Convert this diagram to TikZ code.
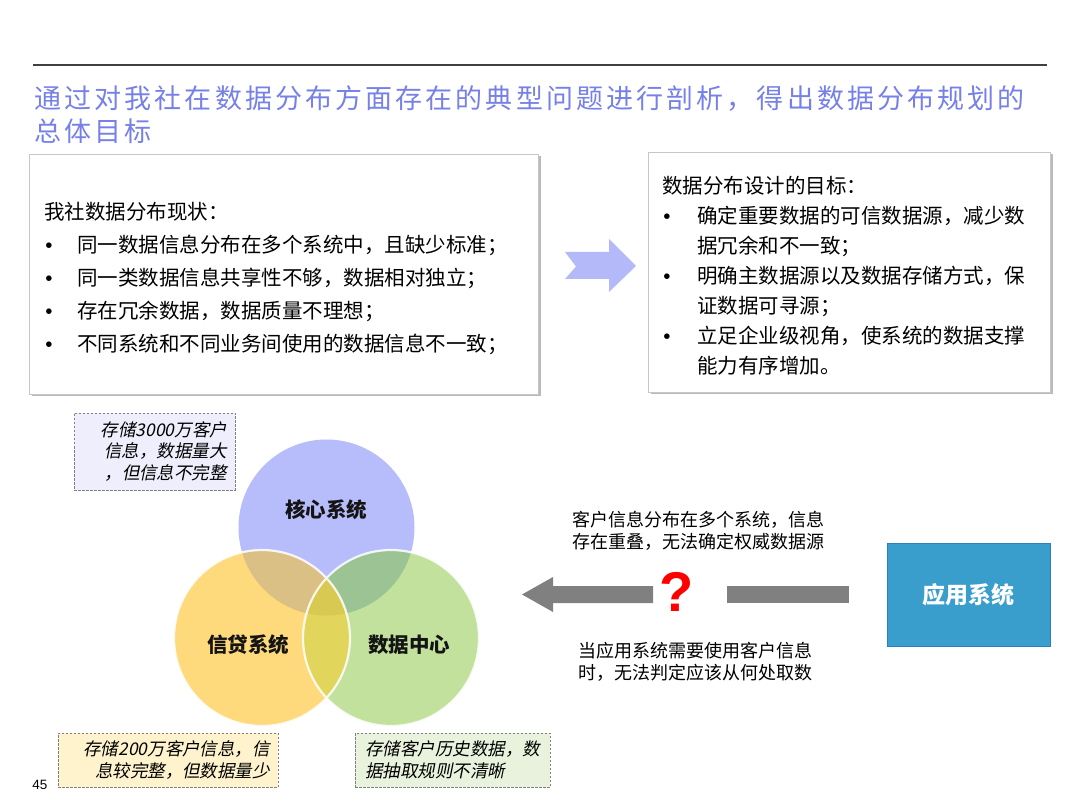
\documentclass[tikz,border=0pt]{standalone}
\usepackage{fontspec}
\setmainfont{Noto Sans CJK SC}
\newfontfamily\titlefont[LetterSpace=11.5]{Noto Sans CJK SC}
\newfontfamily\slantfont[FakeSlant=0.2]{Noto Sans CJK SC}
\newfontfamily\arialfont{Liberation Sans}
\newcommand\bul[1]{\makebox[#1][l]{\hspace{1pt}\arialfont •}}
\usetikzlibrary{shadows}
\definecolor{titleblue}{RGB}{118,128,232}
\definecolor{arrowlav}{RGB}{180,185,250}
\definecolor{cblue}{RGB}{182,189,250}
\definecolor{cyellow}{RGB}{254,218,125}
\definecolor{cgreen}{RGB}{193,225,157}
\definecolor{cby}{RGB}{218,192,132}
\definecolor{cbg}{RGB}{155,195,147}
\definecolor{cyg}{RGB}{225,213,92}
\definecolor{cbyg}{RGB}{216,201,82}
\definecolor{notelav}{RGB}{238,238,252}
\definecolor{noteyel}{RGB}{254,243,205}
\definecolor{notegrn}{RGB}{232,242,220}
\definecolor{appblue}{RGB}{58,158,204}
\definecolor{appedge}{RGB}{44,128,192}
\begin{document}
\begin{tikzpicture}[x=1pt,y=-1pt,line width=.8pt,
  panel/.style={draw=black!22,fill=white,drop shadow={shadow xshift=2.5pt,shadow yshift=-2.5pt,fill=black!45,opacity=.6}},
  note/.style={draw=black!50,dash pattern=on 2.5pt off 1.5pt,line width=.7pt,inner xsep=8pt,font=\slantfont\fontsize{17.5}{21.5}\selectfont},
  venn/.style={inner sep=0pt,text=black!92,font=\bfseries\fontsize{20.5}{24}\selectfont},
  plain/.style={anchor=west,align=left,inner sep=0pt}]
  \useasboundingbox (0,0) rectangle (1080,810);
  \draw[line width=1.5pt,black!75] (33,65)--(1047,65);
  \node[plain,text=titleblue,font=\titlefont\fontsize{27}{33}\selectfont] (title) at (34,114.5)
    {通过对我社在数据分布方面存在的典型问题进行剖析，得出数据分布规划的\\总体目标};
  \node[panel,minimum width=509pt,minimum height=240pt] (nowbox) at (283.5,274) {};
  \node[plain,font=\fontsize{20.5}{33}\selectfont] (nowtext) at (44,278.5)
    {我社数据分布现状：\\
     \bul{33pt}同一数据信息分布在多个系统中，且缺少标准；\\
     \bul{33pt}同一类数据信息共享性不够，数据相对独立；\\
     \bul{33pt}存在冗余数据，数据质量不理想；\\
     \bul{33pt}不同系统和不同业务间使用的数据信息不一致；};
  \fill[arrowlav] (565,252)--(609,252)--(609,239)--(636,266)--(609,292)--(609,279)--(565,279)--(576,266.5)--cycle;
  \node[panel,minimum width=402pt,minimum height=240pt] (goalbox) at (849,272) {};
  \node[plain,font=\fontsize{20.5}{30}\selectfont] (goaltext) at (662,276)
    {数据分布设计的目标：\\
     \bul{35pt}确定重要数据的可信数据源，减少数\\
     \hspace*{35pt}据冗余和不一致；\\
     \bul{35pt}明确主数据源以及数据存储方式，保\\
     \hspace*{35pt}证数据可寻源；\\
     \bul{35pt}立足企业级视角，使系统的数据支撑\\
     \hspace*{35pt}能力有序增加。};
  \coordinate (core) at (326.5,527.5);
  \coordinate (loan) at (262,638);
  \coordinate (dc) at (391,638);
  \fill[cblue] (core) circle (88pt);
  \fill[cyellow] (loan) circle (88pt);
  \fill[cgreen] (dc) circle (88pt);
  \begin{scope}
    \clip (core) circle (88pt);
    \fill[cby] (loan) circle (88pt);
    \fill[cbg] (dc) circle (88pt);
  \end{scope}
  \begin{scope}
    \clip (loan) circle (88pt);
    \fill[cyg] (dc) circle (88pt);
    \clip (core) circle (88pt);
    \fill[cbyg] (dc) circle (88pt);
  \end{scope}
  \draw[white,line width=2.2pt,draw opacity=.85] (loan) circle (88pt) (dc) circle (88pt);
  \node[venn] (corelabel) at (326,510) {核心系统};
  \node[venn] (loanlabel) at (248,645) {信贷系统};
  \node[venn] (dclabel) at (409,645) {数据中心};
  \node[note,fill=notelav,text width=145pt,align=right,minimum height=77pt] (corenote) at (154.5,451.5)
    {存储3000万客户\\信息，数据量大\\，但信息不完整};
  \node[note,fill=noteyel,text width=204pt,align=right,minimum height=54pt] (loannote) at (168,760)
    {存储200万客户信息，信\\息较完整，但数据量少};
  \node[note,fill=notegrn,inner xsep=10pt,text width=175pt,align=left,minimum height=54pt] (dcnote) at (452.5,760)
    {存储客户历史数据，数\\据抽取规则不清晰};
  \fill[black!50] (522,594.5)--(553,577)--(553,586)--(653,586)--(653,603)--(553,603)--(553,612)--cycle;
  \fill[black!50] (727,586) rectangle (849,603);
  \node[inner sep=0pt,text=red,font=\arialfont\bfseries\fontsize{56}{56}\selectfont] (q) at (677,592) {?};
  \node[plain,font=\fontsize{18}{22}\selectfont] (toptext) at (572,531)
    {客户信息分布在多个系统，信息\\存在重叠，无法确定权威数据源};
  \node[plain,font=\fontsize{18}{22}\selectfont] (bottext) at (578,662)
    {当应用系统需要使用客户信息\\时，无法判定应该从何处取数};
  \node[draw=appedge,fill=appblue,minimum width=163pt,minimum height=103pt,text=white,
    font=\bfseries\fontsize{23}{26}\selectfont] (app) at (968.5,594.5) {应用系统};
  \node[inner sep=0pt,font=\arialfont\fontsize{13.5}{15}\selectfont] (page) at (40,785) {45};
\end{tikzpicture}
\end{document}
